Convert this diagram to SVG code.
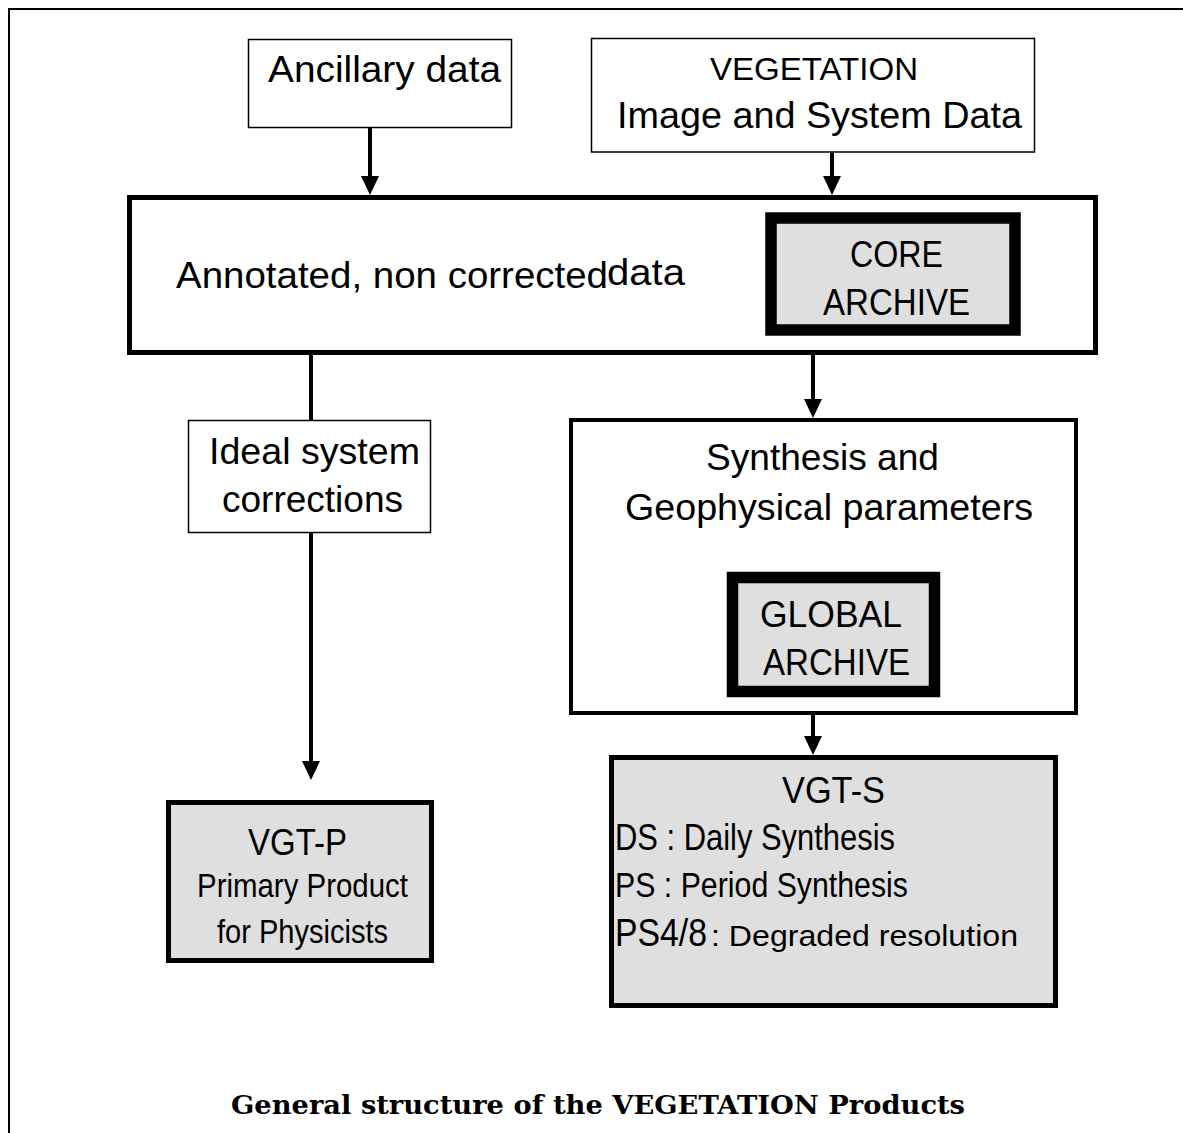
<svg xmlns="http://www.w3.org/2000/svg" width="1183" height="1133" viewBox="0 0 1183 1133">
<defs>
<style>
.t{font-family:"Liberation Sans",Arial,sans-serif;fill:#000;}
.thin{fill:#fff;stroke:#000;stroke-width:1.5;}
.bold{fill:#fff;stroke:#000;stroke-width:5;}
.grey{fill:#dfdfdf;stroke:#000;stroke-width:5;}
.arch{fill:#dfdfdf;stroke:#000;stroke-width:11.5;}
.con{fill:none;stroke:#000;stroke-width:4;}
.cap{font-family:"DejaVu Serif","Liberation Serif",serif;font-weight:bold;fill:#000;}
</style>
<marker id="ah" markerUnits="userSpaceOnUse" markerWidth="20" markerHeight="19" refX="14" refY="9" orient="auto" viewBox="0 0 20 19">
<path d="M0,0 L19,9 L0,18 z" fill="#000"/>
</marker>
</defs>
<rect width="1183" height="1133" fill="#fff"/>
<path d="M9,1133 V9 H1183" fill="none" stroke="#000" stroke-width="2"/>

<g id="connectors">
<line class="con" x1="370" y1="127" x2="370" y2="190" marker-end="url(#ah)"/>
<line class="con" x1="832" y1="152" x2="832" y2="190" marker-end="url(#ah)"/>
<line class="con" x1="311" y1="355" x2="311" y2="420"/>
<line class="con" x1="311" y1="533" x2="311" y2="775" marker-end="url(#ah)"/>
<line class="con" x1="813" y1="355" x2="813" y2="413" marker-end="url(#ah)"/>
<line class="con" x1="813" y1="715" x2="813" y2="750" marker-end="url(#ah)"/>
</g>

<g id="ancillary">
<rect class="thin" x="248.5" y="39.5" width="263" height="88"/>
<text class="t" x="268" y="82" font-size="36" textLength="233" lengthAdjust="spacingAndGlyphs">Ancillary data</text>
</g>

<g id="vegetation">
<rect class="thin" x="591.5" y="38.5" width="443" height="113.5"/>
<text class="t" x="710" y="80" font-size="32" textLength="208" lengthAdjust="spacingAndGlyphs">VEGETATION</text>
<text class="t" x="617" y="128" font-size="36" textLength="405" lengthAdjust="spacingAndGlyphs">Image and System Data</text>
</g>

<g id="annotated">
<rect class="bold" x="129.5" y="197.5" width="966" height="155"/>
<text class="t" x="176" y="288" font-size="36" textLength="432" lengthAdjust="spacingAndGlyphs">Annotated, non corrected</text>
<text class="t" x="607" y="285" font-size="36" textLength="78" lengthAdjust="spacingAndGlyphs">data</text>
</g>

<g id="core-archive">
<rect class="arch" x="771" y="218" width="244" height="112"/>
<text class="t" x="850" y="267" font-size="37" textLength="93" lengthAdjust="spacingAndGlyphs">CORE</text>
<text class="t" x="823" y="315" font-size="37" textLength="147" lengthAdjust="spacingAndGlyphs">ARCHIVE</text>
</g>

<g id="ideal">
<rect class="thin" x="188.5" y="420.5" width="242" height="112"/>
<text class="t" x="209" y="464" font-size="36" textLength="211" lengthAdjust="spacingAndGlyphs">Ideal system</text>
<text class="t" x="222" y="512" font-size="36" textLength="181" lengthAdjust="spacingAndGlyphs">corrections</text>
</g>

<g id="synthesis">
<rect class="con" x="571" y="420" width="505" height="293" fill="#fff"/>
<text class="t" x="706" y="470" font-size="36" textLength="233" lengthAdjust="spacingAndGlyphs">Synthesis and</text>
<text class="t" x="625" y="520" font-size="36" textLength="408" lengthAdjust="spacingAndGlyphs">Geophysical parameters</text>
</g>

<g id="global-archive">
<rect class="arch" x="732.5" y="577.5" width="202" height="114"/>
<text class="t" x="760" y="627" font-size="37" textLength="142" lengthAdjust="spacingAndGlyphs">GLOBAL</text>
<text class="t" x="763" y="675" font-size="37" textLength="147" lengthAdjust="spacingAndGlyphs">ARCHIVE</text>
</g>

<g id="vgt-p">
<rect class="grey" x="168.5" y="802.5" width="263" height="158"/>
<text class="t" x="248" y="855" font-size="36" textLength="99" lengthAdjust="spacingAndGlyphs">VGT-P</text>
<text class="t" x="197" y="897" font-size="34" textLength="211" lengthAdjust="spacingAndGlyphs">Primary Product</text>
<text class="t" x="217" y="943" font-size="34" textLength="171" lengthAdjust="spacingAndGlyphs">for Physicists</text>
</g>

<g id="vgt-s">
<rect class="grey" x="611.5" y="757.5" width="444" height="248"/>
<text class="t" x="782" y="803" font-size="37" textLength="103" lengthAdjust="spacingAndGlyphs">VGT-S</text>
<text class="t" x="615" y="850" font-size="36" textLength="280" lengthAdjust="spacingAndGlyphs">DS : Daily Synthesis</text>
<text class="t" x="615" y="897" font-size="35" textLength="293" lengthAdjust="spacingAndGlyphs">PS : Period Synthesis</text>
<text class="t" x="615" y="946" font-size="38" textLength="92" lengthAdjust="spacingAndGlyphs">PS4/8</text>
<text class="t" x="711" y="946" font-size="30" textLength="307" lengthAdjust="spacingAndGlyphs">: Degraded resolution</text>
</g>

<text class="cap" x="231" y="1114" font-size="26" textLength="734" lengthAdjust="spacingAndGlyphs">General structure of the VEGETATION Products</text>
</svg>
